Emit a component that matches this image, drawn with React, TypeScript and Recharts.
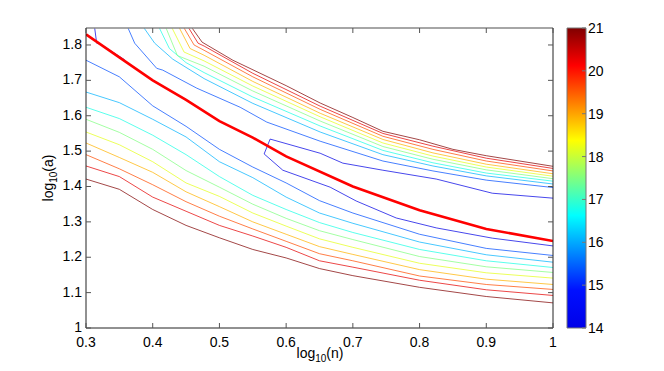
import React from 'react';
import { LineChart, Line, XAxis, YAxis, ReferenceArea } from 'recharts';

// ---------- ticks ----------
const xTicks = [0.3, 0.4, 0.5, 0.6, 0.7, 0.8, 0.9, 1];
const xTickLabels = ['0.3', '0.4', '0.5', '0.6', '0.7', '0.8', '0.9', '1'];
const yTicks = [1, 1.1, 1.2, 1.3, 1.4, 1.5, 1.6, 1.7, 1.8];
const yTickLabels = ['1', '1.1', '1.2', '1.3', '1.4', '1.5', '1.6', '1.7', '1.8'];
const cbTicks = [14, 15, 16, 17, 18, 19, 20, 21];
const cbTickLabels = ['14', '15', '16', '17', '18', '19', '20', '21'];

// ---------- contour levels ----------
const levels = [14.7, 15.4, 16.1, 16.8, 17.5, 18.2, 18.9, 19.6, 20.3, 21];

// lower family (below the thick red curve), sampled at lowerX
const lowerX = [0.3, 0.35, 0.4, 0.45, 0.5, 0.55, 0.6, 0.65, 0.7, 0.8, 0.9, 1.0];
const lower154 = [1.757, 1.71, 1.628, 1.57, 1.505, 1.455, 1.41, 1.36, 1.325, 1.265, 1.225, 1.205];
const lower161 = [1.667, 1.637, 1.59, 1.54, 1.47, 1.425, 1.37, 1.325, 1.296, 1.243, 1.207, 1.186];
const lower168 = [1.624, 1.592, 1.545, 1.49, 1.428, 1.375, 1.335, 1.298, 1.27, 1.222, 1.19, 1.171];
const lower175 = [1.59, 1.553, 1.505, 1.445, 1.398, 1.35, 1.31, 1.275, 1.25, 1.202, 1.173, 1.157];
const lower182 = [1.554, 1.518, 1.47, 1.41, 1.372, 1.325, 1.288, 1.252, 1.228, 1.183, 1.156, 1.141];
const lower189 = [1.523, 1.482, 1.44, 1.385, 1.343, 1.3, 1.265, 1.23, 1.208, 1.165, 1.138, 1.123];
const lower196 = [1.49, 1.45, 1.405, 1.357, 1.316, 1.28, 1.245, 1.21, 1.19, 1.147, 1.123, 1.109];
const lower203 = [1.458, 1.428, 1.37, 1.33, 1.29, 1.26, 1.228, 1.19, 1.172, 1.135, 1.108, 1.092];
const lower210 = [1.421, 1.392, 1.335, 1.29, 1.255, 1.222, 1.198, 1.168, 1.148, 1.115, 1.089, 1.071];

// upper family (above the thick red curve), [x, y] pairs
const upper154 = [[0.363, 1.848], [0.373, 1.805], [0.406, 1.734], [0.415, 1.729], [0.466, 1.678], [0.531, 1.624], [0.571, 1.582], [0.651, 1.528], [0.745, 1.472], [0.82, 1.444], [0.9, 1.418], [1.0, 1.397]];
const upper161 = [[0.387, 1.848], [0.403, 1.805], [0.43, 1.76], [0.477, 1.705], [0.55, 1.635], [0.651, 1.554], [0.745, 1.49], [0.82, 1.458], [0.9, 1.43], [1.0, 1.407]];
const upper168 = [[0.41, 1.848], [0.425, 1.79], [0.45, 1.75], [0.477, 1.722], [0.55, 1.653], [0.651, 1.571], [0.745, 1.502], [0.82, 1.467], [0.9, 1.438], [1.0, 1.415]];
const upper175 = [[0.42, 1.848], [0.437, 1.77], [0.477, 1.74], [0.55, 1.67], [0.651, 1.585], [0.745, 1.513], [0.82, 1.477], [0.9, 1.447], [1.0, 1.422]];
const upper182 = [[0.429, 1.848], [0.447, 1.78], [0.477, 1.755], [0.55, 1.684], [0.651, 1.597], [0.745, 1.523], [0.82, 1.486], [0.9, 1.455], [1.0, 1.429]];
const upper189 = [[0.44, 1.848], [0.456, 1.79], [0.477, 1.771], [0.55, 1.697], [0.651, 1.607], [0.745, 1.533], [0.82, 1.495], [0.9, 1.463], [1.0, 1.436]];
const upper196 = [[0.447, 1.848], [0.462, 1.8], [0.477, 1.785], [0.55, 1.71], [0.651, 1.618], [0.745, 1.542], [0.82, 1.505], [0.9, 1.472], [1.0, 1.444]];
const upper203 = [[0.454, 1.848], [0.468, 1.805], [0.477, 1.797], [0.55, 1.72], [0.651, 1.627], [0.745, 1.55], [0.82, 1.514], [0.9, 1.48], [1.0, 1.451]];
const upper210 = [[0.459, 1.848], [0.474, 1.808], [0.52, 1.757], [0.6, 1.685], [0.651, 1.636], [0.7, 1.595], [0.745, 1.556], [0.8, 1.532], [0.85, 1.505], [0.9, 1.487], [1.0, 1.457]];

// lowest level: U-shaped contour opening to the right, plus a corner piece
const loop147 = [[1.0, 1.367], [0.909, 1.381], [0.825, 1.421], [0.745, 1.446], [0.685, 1.466], [0.651, 1.494], [0.576, 1.534], [0.567, 1.492], [0.595, 1.446], [0.666, 1.398], [0.705, 1.359], [0.765, 1.311], [0.825, 1.283], [0.909, 1.254], [1.0, 1.232]];
const corner147 = [[0.313, 1.848], [0.316, 1.805], [0.322, 1.802], [0.358, 1.758]];

// thick red curve
const optimal = [[0.3, 1.83], [0.35, 1.765], [0.4, 1.7], [0.45, 1.645], [0.5, 1.585], [0.55, 1.538], [0.6, 1.485], [0.7, 1.4], [0.8, 1.333], [0.9, 1.28], [1.0, 1.246]];

// ---------- helpers ----------
const CMIN = 14;
const CMAX = 21;
const clamp = (v: number) => Math.max(0, Math.min(1, v));
const jet = (v: number) => {
  const t = (v - CMIN) / (CMAX - CMIN);
  const r = clamp(1.5 - Math.abs(4 * t - 3));
  const g = clamp(1.5 - Math.abs(4 * t - 2));
  const b = clamp(1.5 - Math.abs(4 * t - 1));
  const h = (c: number) => Math.round(c * 255).toString(16).padStart(2, '0');
  return '#' + h(r) + h(g) + h(b);
};
const fromCols = (ys: number[]) => lowerX.map((x, i) => ({ x, y: ys[i] }));
const fromPairs = (p: number[][]) => p.map(([x, y]) => ({ x, y }));

const lowerSets = [lower154, lower161, lower168, lower175, lower182, lower189, lower196, lower203, lower210];
const upperSets = [upper154, upper161, upper168, upper175, upper182, upper189, upper196, upper203, upper210];

const series: { key: string; level: number; data: { x: number; y: number }[] }[] = [];
series.push({ key: 'loop147', level: levels[0], data: fromPairs(loop147) });
series.push({ key: 'corner147', level: levels[0], data: fromPairs(corner147) });
lowerSets.forEach((s, i) => series.push({ key: 'low' + i, level: levels[i + 1], data: fromCols(s) }));
upperSets.forEach((s, i) => series.push({ key: 'up' + i, level: levels[i + 1], data: fromPairs(s) }));

const FONT = '"Liberation Sans", Arial, Helvetica, sans-serif';
const FS = 14;

const BottomTick = (props: any) => {
  const { x, y, payload } = props;
  const i = xTicks.indexOf(payload.value);
  return (
    <g>
      <line x1={x} y1={y} x2={x} y2={y - 5} stroke="#555" strokeWidth={1} />
      <text x={x} y={y + 19} textAnchor="middle" fontFamily={FONT} fontSize={FS} fill="#000">
        {xTickLabels[i]}
      </text>
    </g>
  );
};
const TopTick = (props: any) => {
  const { x, y } = props;
  return <line x1={x} y1={y} x2={x} y2={y + 5} stroke="#555" strokeWidth={1} />;
};
const LeftTick = (props: any) => {
  const { x, y, payload } = props;
  const i = yTicks.indexOf(payload.value);
  return (
    <g>
      <line x1={x} y1={y} x2={x + 5} y2={y} stroke="#555" strokeWidth={1} />
      <text x={x - 4} y={y + 4} textAnchor="end" fontFamily={FONT} fontSize={FS} fill="#000">
        {yTickLabels[i]}
      </text>
    </g>
  );
};
const RightTick = (props: any) => {
  const { x, y } = props;
  return <line x1={x} y1={y} x2={x - 5} y2={y} stroke="#555" strokeWidth={1} />;
};
const CbTick = (props: any) => {
  const { x, y, payload } = props;
  const i = cbTicks.indexOf(payload.value);
  return (
    <g>
      <line x1={x} y1={y} x2={x - 4} y2={y} stroke="#777" strokeWidth={1} />
      <text x={x + 2} y={y + 5} textAnchor="start" fontFamily={FONT} fontSize={FS} fill="#000">
        {cbTickLabels[i]}
      </text>
    </g>
  );
};

const W = 664;
const H = 371;

// colour stops of the colour bar (fraction of range -> colour)
const barStops: [number, string][] = [
  [0, '#0000e8'],
  [0.125, '#0010ff'],
  [0.375, '#00ffff'],
  [0.625, '#ffff00'],
  [0.875, '#ff0000'],
  [1, '#800000'],
];

export default function App() {
  return (
    <div style={{ position: 'absolute', left: 0, top: 0, width: W, height: H, background: '#fff' }}>
      <svg width={0} height={0} style={{ position: 'absolute' }}>
        <defs>
          <linearGradient id="jetGrad" x1="0" y1="1" x2="0" y2="0">
            {barStops.map(([t, c]) => (
              <stop key={t} offset={t} stopColor={c} />
            ))}
          </linearGradient>
        </defs>
      </svg>

      <div style={{ position: 'absolute', left: 0, top: 0 }}>
        <LineChart width={W} height={H} margin={{ top: 18, right: 101, bottom: 13, left: 36 }}>
          <XAxis
            xAxisId="bottom"
            dataKey="x"
            type="number"
            domain={[0.3, 1]}
            allowDataOverflow
            ticks={xTicks}
            interval={0}
            tickSize={0}
            tickMargin={0}
            tickLine={false}
            height={30}
            axisLine={{ stroke: '#222', strokeWidth: 1 }}
            tick={<BottomTick />}
          />
          <XAxis
            xAxisId="top"
            orientation="top"
            dataKey="x"
            type="number"
            domain={[0.3, 1]}
            allowDataOverflow
            ticks={xTicks}
            interval={0}
            tickSize={0}
            tickMargin={0}
            tickLine={false}
            height={10}
            axisLine={{ stroke: '#888', strokeWidth: 1.5 }}
            tick={<TopTick />}
          />
          <YAxis
            yAxisId="left"
            type="number"
            domain={[1, 1.848]}
            allowDataOverflow
            ticks={yTicks}
            interval={0}
            tickSize={0}
            tickMargin={0}
            tickLine={false}
            width={50}
            axisLine={{ stroke: '#222', strokeWidth: 1 }}
            tick={<LeftTick />}
          />
          <YAxis
            yAxisId="right"
            orientation="right"
            type="number"
            domain={[1, 1.848]}
            allowDataOverflow
            ticks={yTicks}
            interval={0}
            tickSize={0}
            tickMargin={0}
            tickLine={false}
            width={10}
            axisLine={{ stroke: '#222', strokeWidth: 1 }}
            tick={<RightTick />}
          />
          {series.map((s) => (
            <Line
              key={s.key}
              xAxisId="bottom"
              yAxisId="left"
              data={s.data}
              dataKey="y"
              type="linear"
              stroke={jet(s.level)}
              strokeWidth={1}
              strokeOpacity={0.72}
              dot={false}
              activeDot={false}
              isAnimationActive={false}
            />
          ))}
          <Line
            key="optimal"
            xAxisId="bottom"
            yAxisId="left"
            data={fromPairs(optimal)}
            dataKey="y"
            type="linear"
            stroke="#ff0000"
            strokeWidth={2.6}
            dot={false}
            activeDot={false}
            isAnimationActive={false}
          />
        </LineChart>
      </div>

      <div style={{ position: 'absolute', left: 560, top: 0 }}>
        <LineChart width={60} height={H} margin={{ top: 28, right: 0, bottom: 43, left: 7 }}>
          <XAxis xAxisId="cb" type="number" dataKey="x" domain={[0, 1]} hide allowDataOverflow />
          <YAxis
            yAxisId="cb"
            orientation="right"
            type="number"
            domain={[14, 21]}
            allowDataOverflow
            ticks={cbTicks}
            interval={0}
            tickSize={0}
            tickMargin={0}
            tickLine={false}
            width={34}
            axisLine={false}
            tick={<CbTick />}
          />
          <ReferenceArea
            xAxisId="cb"
            yAxisId="cb"
            x1={0}
            x2={1}
            y1={14}
            y2={21}
            fill="url(#jetGrad)"
            fillOpacity={1}
            stroke="#777"
            strokeWidth={1}
            ifOverflow="extendDomain"
          />
        </LineChart>
      </div>

      <svg width={W} height={H} style={{ position: 'absolute', left: 0, top: 0, pointerEvents: 'none' }}>
        <text x={320} y={358} textAnchor="middle" fontFamily={FONT} fontSize={FS} fill="#000">
          log<tspan fontSize={10} dy={4}>10</tspan>
          <tspan dy={-4}>(n)</tspan>
        </text>
        <text transform="translate(53,178) rotate(-90)" textAnchor="middle" fontFamily={FONT} fontSize={FS} fill="#000">
          log<tspan fontSize={10} dy={4}>10</tspan>
          <tspan dy={-4}>(a)</tspan>
        </text>
      </svg>
    </div>
  );
}
